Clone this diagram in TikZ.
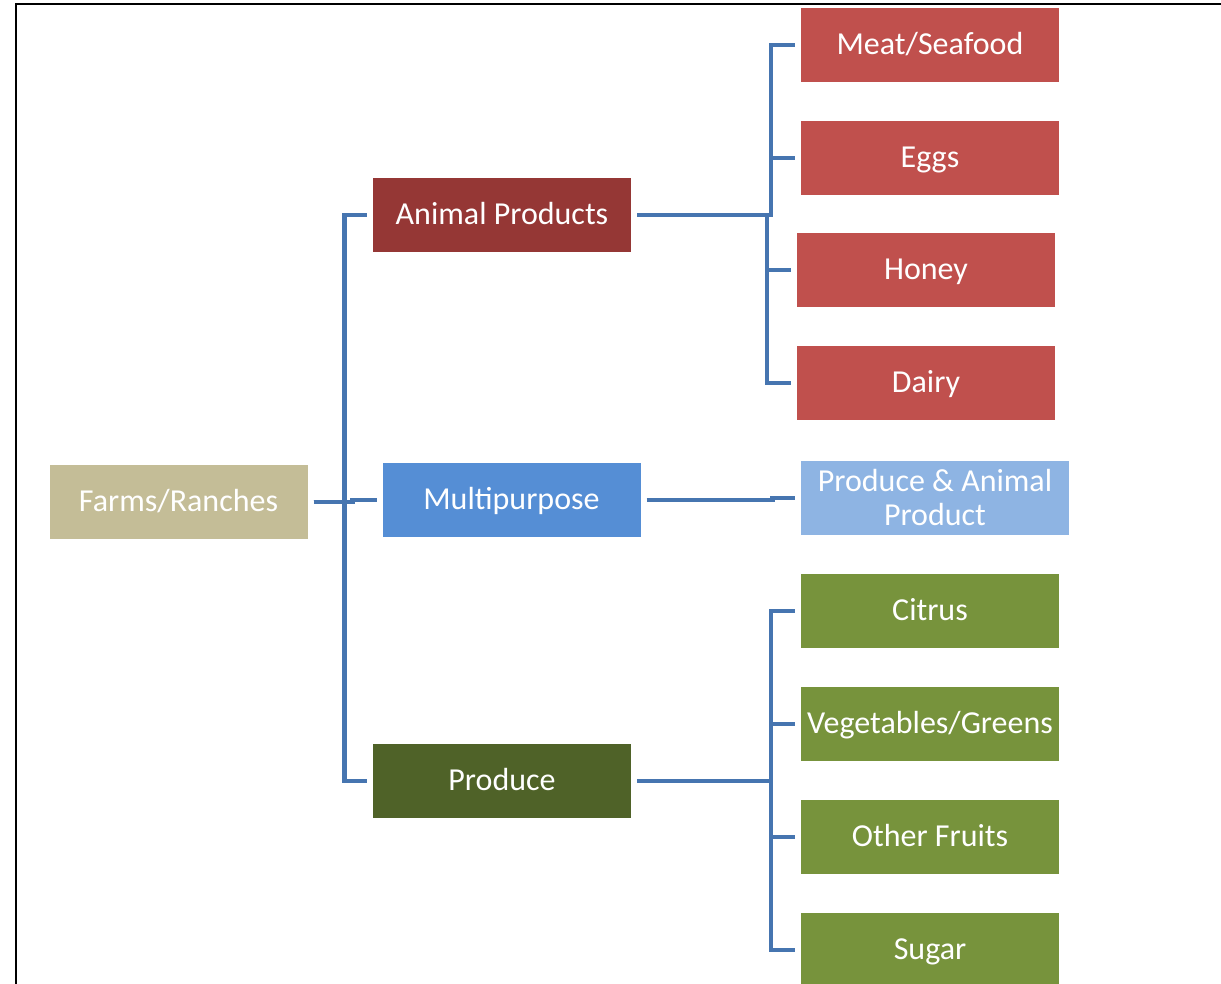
\documentclass[tikz,border=0pt]{standalone}
\usepackage{fontspec}
\setmainfont{Carlito}
\definecolor{tanbox}{HTML}{C4BD97}
\definecolor{animaldark}{HTML}{953735}
\definecolor{animallight}{HTML}{C0504D}
\definecolor{multidark}{HTML}{558ED5}
\definecolor{multilight}{HTML}{8EB4E3}
\definecolor{producedark}{HTML}{4F6228}
\definecolor{producelight}{HTML}{77933C}
\definecolor{linkblue}{HTML}{4675B0}

\begin{document}
\begin{tikzpicture}[x=1pt, y=-1pt,
    box/.style={fill=#1, text=white, minimum width=258pt, minimum height=74pt,
        inner sep=0pt, outer sep=6pt, align=center, text height=24pt, text depth=5pt,
        font=\fontsize{32}{35}\selectfont},
    link/.style={draw=linkblue, line width=4.5pt}]
    \useasboundingbox (0,0) rectangle (1221,984);
    \draw[line width=2pt] (16,984) -- (16,4) -- (1221,4);
    % root and middle level
    \node[box=tanbox] (farms) at (178.5,502) {Farms/Ranches};
    \node[box=animaldark] (animal) at (502,215) {Animal Products};
    \node[box=multidark] (multi) at (511.5,500) {Multipurpose};
    \node[box=producedark] (produce) at (502,781) {Produce};
    % leaves
    \node[box=animallight] (meat) at (930,45) {Meat/Seafood};
    \node[box=animallight] (eggs) at (930,158) {Eggs};
    \node[box=animallight] (honey) at (926,270) {Honey};
    \node[box=animallight] (dairy) at (926,383) {Dairy};
    \node[box=multilight, minimum width=268pt, text height=, text depth=] (mixed) at (935,498) {Produce \& Animal\\[-1pt]Product};
    \node[box=producelight] (citrus) at (930,611) {Citrus};
    \node[box=producelight] (greens) at (930,724) {Vegetables/Greens};
    \node[box=producelight] (fruits) at (930,837) {Other Fruits};
    \node[box=producelight] (sugar) at (930,950) {Sugar};
    % connectors
    \draw[link] (farms.east) -- ++(31,0) |- (animal.west);
    \draw[link] (farms.east) -- ++(39,0) |- (multi.west);
    \draw[link] (farms.east) -- ++(31,0) |- (produce.west);
    \draw[link] (animal.east) -- ++(134,0) |- (meat.west);
    \draw[link] (animal.east) -- ++(134,0) |- (eggs.west);
    \draw[link] (animal.east) -- ++(130,0) |- (honey.west);
    \draw[link] (animal.east) -- ++(130,0) |- (dairy.west);
    \draw[link] (multi.east) -- ++(126,0) |- (mixed.west);
    \draw[link] (produce.east) -- ++(134,0) |- (citrus.west);
    \draw[link] (produce.east) -- ++(134,0) |- (greens.west);
    \draw[link] (produce.east) -- ++(134,0) |- (fruits.west);
    \draw[link] (produce.east) -- ++(134,0) |- (sugar.west);
\end{tikzpicture}
\end{document}
